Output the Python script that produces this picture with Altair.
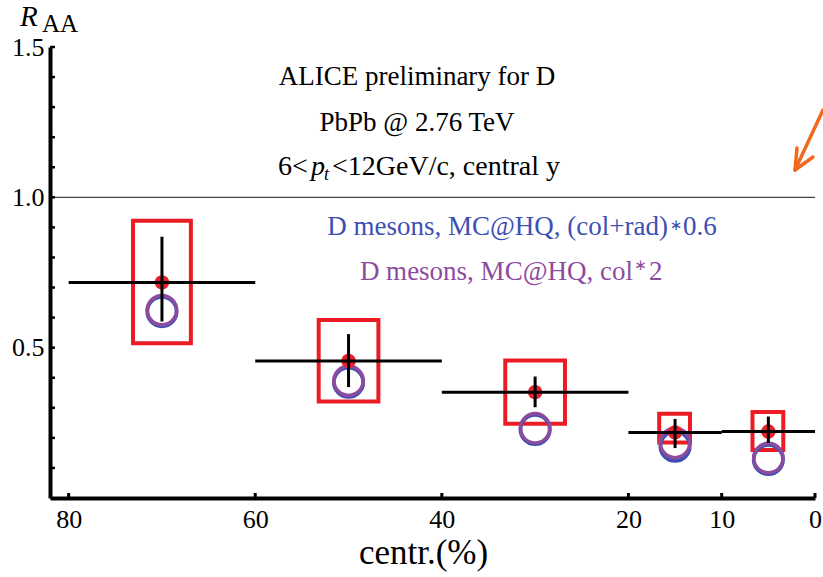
import altair as alt
import pandas as pd

# ---- data ----
centr = [70, 50, 30, 15, 5]
centr_lo = [80, 60, 40, 20, 10]
centr_hi = [60, 40, 20, 10, 0]
raa = [0.717, 0.456, 0.352, 0.218, 0.221]
stat_lo = [0.587, 0.369, 0.302, 0.166, 0.183]
stat_hi = [0.869, 0.545, 0.404, 0.263, 0.271]
sys_lo = [0.515, 0.321, 0.247, 0.185, 0.160]
sys_hi = [0.922, 0.592, 0.457, 0.280, 0.286]
box_left = [73.1, 53.2, 33.2, 16.7, 6.7]
box_right = [66.9, 46.8, 26.8, 13.4, 3.4]
mc_colrad = [0.620, 0.385, 0.228, 0.172, 0.128]   # (col+rad)*0.6, blue
mc_col = [0.625, 0.390, 0.232, 0.183, 0.133]      # col*2, purple

x_ticks = [80, 60, 40, 20, 10, 0]
y_labels = [0.5, 1.0, 1.5]
y_minor = [round(0.1 * i, 1) for i in range(1, 16)]

header_lines = ["ALICE preliminary for D", "PbPb @ 2.76 TeV"]
kin_parts = ["6<", "p", "t", "<12GeV/c, central y"]
legend_blue = ["D mesons, MC@HQ, (col+rad)", "\u2217", "0.6"]
legend_purple = ["D mesons, MC@HQ, col", "\u2217", "2"]

df = pd.DataFrame(dict(centr=centr, lo=centr_lo, hi=centr_hi, raa=raa,
                       slo=stat_lo, shi=stat_hi, ylo=sys_lo, yhi=sys_hi,
                       bl=box_left, br=box_right, blue=mc_colrad, purple=mc_col))

W, H = 765, 451
FONT = "Liberation Serif"
RED = "#ec1c24"
BLUE = "#3d50b2"
PURPLE = "#8d4b9f"

xs = alt.Scale(domain=[0, 82], reverse=True, nice=False, zero=False)
ys = alt.Scale(domain=[0, 1.5], nice=False, zero=False)

x_axis = alt.Axis(values=x_ticks, ticks=False, grid=False, domainColor="black",
                  domainWidth=4, labelFont=FONT, labelFontSize=26, labelColor="black",
                  labelPadding=8, title="centr.(%)", titleFont=FONT, titleFontSize=35,
                  titleFontWeight="normal", titleColor="black", titleY=65, titleX=373,
                  titleBaseline="alphabetic", labelFlush=False)
y_axis = alt.Axis(values=y_labels, format=".1f", ticks=False, grid=False, domainColor="black",
                  domainWidth=4, labelFont=FONT, labelFontSize=26, labelColor="black",
                  labelPadding=6, title=None, labelFlush=False)


def X(field):
    return alt.X(field, scale=xs, axis=x_axis, title="centr.(%)")


def Y(field):
    return alt.Y(field, scale=ys, axis=y_axis, title=None)


base = alt.Chart(df)

ref = alt.Chart(pd.DataFrame({"y": [1.0]})).mark_rule(color="#444444", strokeWidth=1.3).encode(
    y=Y("y:Q"))

boxes = base.mark_rect(fillOpacity=0, stroke=RED, strokeWidth=4).encode(
    x=X("bl:Q"), x2="br:Q", y=Y("ylo:Q"), y2="yhi:Q")

circ_blue = base.mark_point(shape="circle", size=860, strokeWidth=3.8, color=BLUE, filled=False, opacity=1).encode(
    x=X("centr:Q"), y=Y("blue:Q"))
circ_purple = base.mark_point(shape="circle", size=860, strokeWidth=3.5, color=PURPLE, filled=False, opacity=1).encode(
    x=X("centr:Q"), y=Y("purple:Q"))

dot = base.mark_point(shape="circle", size=210, filled=True, color="#e8202a", opacity=1).encode(
    x=X("centr:Q"), y=Y("raa:Q"))

hbar = base.mark_rule(color="black", strokeWidth=3).encode(
    x=X("lo:Q"), x2="hi:Q", y=Y("raa:Q"))
vbar = base.mark_rule(color="black", strokeWidth=3).encode(
    x=X("centr:Q"), y=Y("slo:Q"), y2="shi:Q")

# inward tick nubs
xt = alt.Chart(pd.DataFrame({"t": x_ticks})).mark_rule(color="black", strokeWidth=3).encode(
    x=X("t:Q"), y=alt.value(H), y2=alt.value(H - 5))
yt = alt.Chart(pd.DataFrame({"t": y_minor})).mark_rule(color="black", strokeWidth=2.5).encode(
    y=Y("t:Q"), x=alt.value(0), x2=alt.value(5))


def txt(s, x, y, size=27, color="black", align="center", style="normal", baseline="alphabetic",
        font=FONT):
    return alt.Chart(pd.DataFrame({"s": [s]})).mark_text(
        font=font, fontSize=size, color=color, align=align, baseline=baseline,
        fontStyle=style).encode(text="s:N", x=alt.value(x), y=alt.value(y))


texts = [
    txt(header_lines[0], 367, 38),
    txt(header_lines[1], 367, 84),
    txt(kin_parts[0], 228, 128, size=28, align="left"),
    txt(kin_parts[1], 261, 128, size=28, align="left", style="italic"),
    txt(kin_parts[2], 274, 133, size=18, align="left", style="italic"),
    txt(kin_parts[3], 282, 128, size=28, align="left"),
    txt(legend_blue[0], 618, 188, color=BLUE, align="right"),
    txt(legend_blue[1], 626, 178, size=15, color=BLUE, baseline="middle", font="DejaVu Sans"),
    txt(legend_blue[2], 633, 188, color=BLUE, align="left"),
    txt(legend_purple[0], 583, 233, color=PURPLE, align="right"),
    txt(legend_purple[1], 590.5, 218, size=15, color=PURPLE, baseline="middle", font="DejaVu Sans"),
    txt(legend_purple[2], 599, 233, color=PURPLE, align="left"),
    txt("R", -30, -21, size=29, align="left", style="italic"),
    txt("AA", -8, -15, size=25, align="left"),
]

ORANGE = "#f26a1e"


def seg(x1, y1, x2, y2):
    return alt.Chart(pd.DataFrame({"a": [0]})).mark_rule(
        color=ORANGE, strokeWidth=3.5, strokeCap="round").encode(
        x=alt.value(x1), x2=alt.value(x2), y=alt.value(y1), y2=alt.value(y2))


arrow = [seg(773, 63, 745, 123), seg(745, 123, 747, 101), seg(745, 123, 763, 110)]

chart = alt.layer(ref, boxes, circ_blue, circ_purple, dot, hbar, vbar, xt, yt, *texts, *arrow).properties(
    width=W, height=H,
    autosize=alt.AutoSizeParams(type="none"),
    padding={"left": 50, "top": 47, "right": 8, "bottom": 79},
    background="white",
).configure_view(stroke=None)

chart.save("out.html", embed_options={"renderer": "svg", "actions": False})
